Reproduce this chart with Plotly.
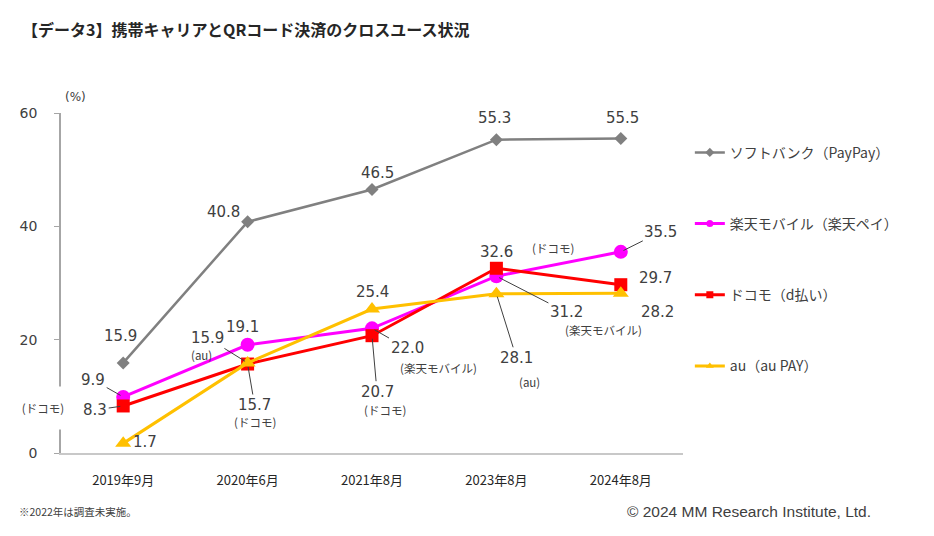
import plotly.graph_objects as go

categories = ["2019年9月", "2020年6月", "2021年8月", "2023年8月", "2024年8月"]
softbank = [15.9, 40.8, 46.5, 55.3, 55.5]
rakuten = [9.9, 19.1, 22.0, 31.2, 35.5]
docomo = [8.3, 15.7, 20.7, 32.6, 29.7]
au = [1.7, 15.9, 25.4, 28.1, 28.2]
series_names = ["ソフトバンク（PayPay）", "楽天モバイル（楽天ペイ）", "ドコモ（d払い）", "au（au PAY）"]
y_ticks = [0, 20, 40, 60]

NUM_FONT = dict(family="DejaVu Sans", size=15, color="#404040")
SUB_FONT = dict(family="Noto Sans CJK JP", size=11.5, color="#404040")
JP = "Noto Sans CJK JP"

fig = go.Figure()
styles = [
    (softbank, "#808080", "diamond", 10, 2.5),
    (rakuten, "#FF00FF", "circle", 14, 3),
    (docomo, "#FF0000", "square", 13, 3),
    (au, "#FFC000", "triangle-up", 14, 3),
]
for i, (vals, col, sym, ms, lw) in enumerate(styles):
    fig.add_trace(go.Scatter(
        x=categories, y=vals, mode="lines+markers", name=series_names[i],
        showlegend=False, cliponaxis=False,
        line=dict(color=col, width=lw),
        marker=dict(symbol=sym, size=ms, color=col),
    ))
# legend entries with small markers (no data drawn)
for i, (vals, col, sym, ms, lw) in enumerate(styles):
    fig.add_trace(go.Scatter(
        x=[None], y=[None], mode="lines+markers", name=series_names[i],
        legendgroup=str(i), showlegend=True,
        line=dict(color=col, width=lw),
        marker=dict(symbol=sym, size=7, color=col),
    ))

ann = []

def plain(ci, v, text, xs, ys, font=NUM_FONT, **kw):
    ann.append(dict(x=categories[ci], y=v, text=text, showarrow=False,
                    xshift=xs, yshift=ys, font=font, **kw))

def leader(ci, v, text, ax, ay):
    ann.append(dict(x=categories[ci], y=v, text=text, showarrow=True,
                    arrowhead=0, arrowwidth=1, arrowcolor="#404040",
                    ax=ax, ay=ay, font=NUM_FONT, standoff=3))

# SoftBank
plain(0, softbank[0], "15.9", -3, 27)
plain(1, softbank[1], "40.8", -24, 10)
plain(2, softbank[2], "46.5", 5, 17)
plain(3, softbank[3], "55.3", -2, 22)
plain(4, softbank[4], "55.5", 2, 21)

# Rakuten
leader(0, rakuten[0], "9.9", -30, -17)
plain(1, rakuten[1], "19.1", -5, 18)
leader(2, rakuten[2], "22.0", 35, 20)
plain(2, rakuten[2], "(楽天モバイル)", 66, -40, font=SUB_FONT)
leader(3, rakuten[3], "31.2", 70, 36)
plain(3, rakuten[3], "(楽天モバイル)", 107, -54, font=SUB_FONT)
leader(4, rakuten[4], "35.5", 40, -20)

# Docomo
leader(0, docomo[0], "8.3", -28, 4)
plain(0, docomo[0], "(ドコモ)", -80, -2, font=SUB_FONT, bgcolor="white",
      width=50, height=40)
leader(1, docomo[1], "15.7", 7, 41)
plain(1, docomo[1], "(ドコモ)", 7, -58, font=SUB_FONT)
leader(2, docomo[2], "20.7", 5, 56)
plain(2, docomo[2], "(ドコモ)", 13, -74, font=SUB_FONT)
plain(3, docomo[3], "32.6", 0, 16)
plain(3, docomo[3], "(ドコモ)", 57, 20, font=SUB_FONT)
plain(4, docomo[4], "29.7", 35, 7)

# au
plain(0, au[0], "1.7", 22, 1)
leader(1, au[1], "15.9", -40, -25)
plain(1, au[1], "(au)", -46, 8, font=SUB_FONT)
plain(2, au[2], "25.4", 0, 17)
leader(3, au[3], "28.1", 20, 64)
plain(3, au[3], "(au)", 33, -88, font=SUB_FONT)
plain(4, au[4], "28.2", 37, -19)

# other texts
ann.append(dict(xref="paper", yref="paper", x=0.003, y=1.047, text="(%)",
                xanchor="left", yanchor="middle",
                showarrow=False, font=dict(family="DejaVu Sans", size=12, color="#404040")))
ann.append(dict(xref="paper", yref="paper", x=-0.07, y=-0.1706, xanchor="left",
                yanchor="middle",
                text="※2022年は調査未実施。", showarrow=False,
                font=dict(family=JP, size=10.5, color="#404040")))
ann.append(dict(xref="paper", yref="paper", x=0.907, y=-0.1706, xanchor="left",
                yanchor="middle",
                text="© 2024 MM Research Institute, Ltd.", showarrow=False,
                font=dict(family="Liberation Sans", size=15.5, color="#404040")))

# page body has an 8px margin: figure sized/margined to compensate
fig.update_layout(
    width=926, height=528,
    margin=dict(l=50, r=251, t=105, b=83),
    paper_bgcolor="white", plot_bgcolor="white",
    title=dict(text="<b>【データ3】携帯キャリアとQRコード決済のクロスユース状況</b>",
               x=14 / 926, y=1 - 22 / 528, xanchor="left", yanchor="middle",
               font=dict(family=JP, size=16, color="#262626")),
    annotations=ann,
    showlegend=True,
    legend=dict(x=1.011, y=0.93, xanchor="left", yanchor="top",
                tracegroupgap=50, font=dict(family=JP, size=14, color="#404040"),
                bgcolor="rgba(0,0,0,0)"),
    xaxis=dict(showline=True, linecolor="#C8C8C8", linewidth=1.5, showgrid=False,
               ticks="", tickfont=dict(family=JP, size=13, color="#262626"),
               ticklabelstandoff=15, range=[-0.5, 4.5]),
    yaxis=dict(showline=True, linecolor="#A6A6A6", linewidth=1.5, showgrid=False,
               range=[0, 60], tickvals=y_ticks, ticks="outside", ticklen=5,
               tickcolor="#A6A6A6", zeroline=False,
               tickfont=dict(family="DejaVu Sans", size=14, color="#404040"),
               ticklabelstandoff=14),
)

fig.write_html("out.html")
